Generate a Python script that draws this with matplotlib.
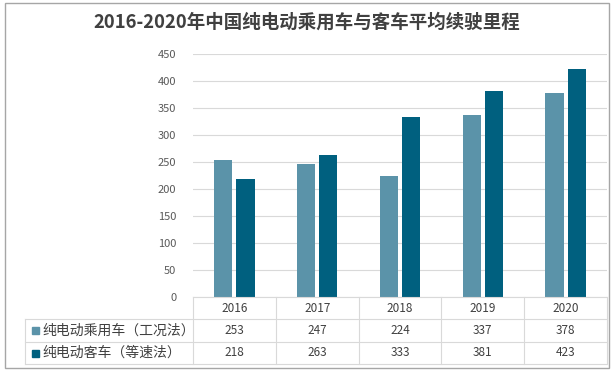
import matplotlib
matplotlib.use("Agg")
import matplotlib.pyplot as plt
import numpy as np
from matplotlib.patches import Rectangle

plt.rcParams['font.family'] = ['Noto Sans CJK SC', 'DejaVu Sans']

years = ['2016', '2017', '2018', '2019', '2020']
passenger = [253, 247, 224, 337, 378]
bus = [218, 263, 333, 381, 423]
names = ['纯电动乘用车（工况法）', '纯电动客车（等速法）']
colors = ['#5B93A9', '#00607F']
title = '2016-2020年中国纯电动乘用车与客车平均续驶里程'

W, H = 614, 372
fig = plt.figure(figsize=(W / 100, H / 100), dpi=100)

# pixel helpers
def fx(px):
    return px / W

def fy(py):
    return 1 - py / H

x0, x1 = 193, 607
y_top, y_zero = 54, 297
ax = fig.add_axes([fx(x0), fy(y_zero), fx(x1) - fx(x0), fy(y_top) - fy(y_zero)])

x = np.arange(len(years))
bw = 0.22
ax.bar(x - 0.135, passenger, bw, color=colors[0], zorder=3)
ax.bar(x + 0.135, bus, bw, color=colors[1], zorder=3)
ax.set_xlim(-0.5, len(years) - 0.5)
ax.set_ylim(0, 450)
ax.set_yticks(range(0, 451, 50))
ax.yaxis.grid(True, color='#D9D9D9', linewidth=0.8, zorder=0)
ax.set_xticks([])
for s in ax.spines.values():
    s.set_visible(False)
ax.tick_params(axis='y', length=0, labelsize=8, labelcolor='#595959', pad=12)

# overlay for border, title and data table
ov = fig.add_axes([0, 0, 1, 1])
ov.set_xlim(0, W)
ov.set_ylim(H, 0)
ov.axis('off')
ov.add_patch(Rectangle((5, 3), 604, 365, fill=False, edgecolor='#A6A6A6', linewidth=1))
ov.text(307, 22, title, ha='center', va='center', fontsize=13.3, fontweight='bold', color='#404040')

rows = [297, 319, 342, 364]
col_w = (x1 - x0) / len(years)
lc = '#D9D9D9'
# horizontal lines
ov.plot([x0, x1], [rows[0], rows[0]], color=lc, lw=0.8)
for r in rows[1:]:
    ov.plot([25, x1], [r, r], color=lc, lw=0.8)
# vertical lines
ov.plot([25, 25], [rows[1], rows[3]], color=lc, lw=0.8)
for i in range(len(years) + 1):
    xx = x0 + i * col_w
    ov.plot([xx, xx], [rows[0], rows[3]], color=lc, lw=0.8)

for i, yr in enumerate(years):
    cx = x0 + (i + 0.5) * col_w
    ov.text(cx, (rows[0] + rows[1]) / 2, yr, ha='center', va='center', fontsize=8.5, color='#404040')
    ov.text(cx, (rows[1] + rows[2]) / 2, str(passenger[i]), ha='center', va='center', fontsize=8.5, color='#404040')
    ov.text(cx, (rows[2] + rows[3]) / 2, str(bus[i]), ha='center', va='center', fontsize=8.5, color='#404040')

for k in range(2):
    cy = (rows[k + 1] + rows[k + 2]) / 2
    ov.add_patch(Rectangle((32, cy - 3.5), 7, 7, color=colors[k]))
    ov.text(42, cy, names[k], ha='left', va='center', fontsize=10, color='#404040')

fig.savefig('out.png', dpi=100)
